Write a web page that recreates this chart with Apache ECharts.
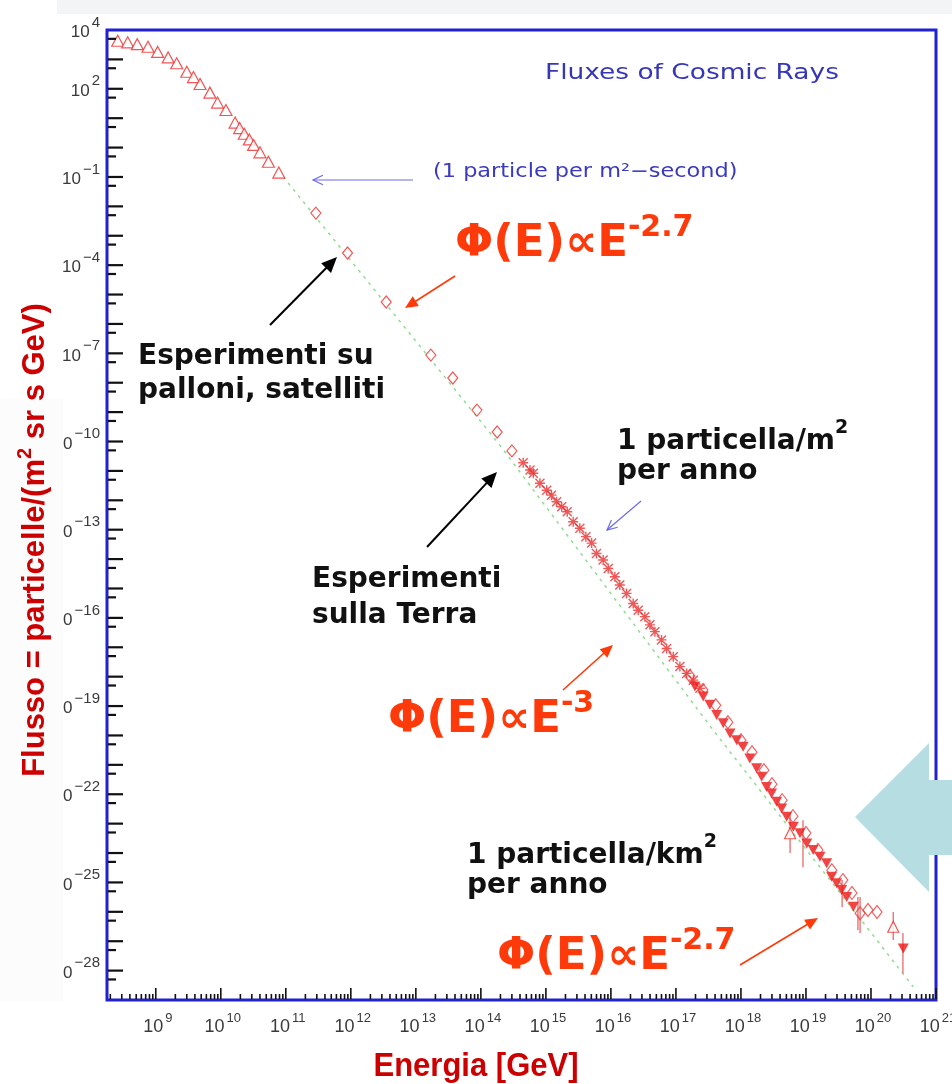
<!DOCTYPE html>
<html>
<head>
<meta charset="utf-8">
<script src="https://cdn.jsdelivr.net/npm/echarts@6/dist/echarts.min.js"></script>
<style>
html,body{margin:0;padding:0;background:#fff;}
#chart{width:952px;height:1084px;}
</style>
</head>
<body>
<div id="chart"></div>
<script>
// ---------- axis ranges / ticks ----------
const X_MIN = 1.778e8, X_MAX = 1e21;
const Y_MIN = 1e-29, Y_MAX = 1e4;
const xTickValues = [1e9,1e10,1e11,1e12,1e13,1e14,1e15,1e16,1e17,1e18,1e19,1e20,1e21];
const xTickExps   = ['9','10','11','12','13','14','15','16','17','18','19','20','21'];
const yLabelValues = [1e4,1e2,1e-1,1e-4,1e-7,1e-10,1e-13,1e-16,1e-19,1e-22,1e-25,1e-28];
const yLabelExps   = ['4','2','\u22121','\u22124','\u22127','\u221210','\u221213','\u221216','\u221219','\u221222','\u221225','\u221228'];

// ---------- data (Energy GeV, flux) ----------
const lowEnergyTriangles = [[2.6e8,4.3e3],[3.7e8,3.8e3],[5.2e8,3.3e3],[7.6e8,2.7e3],[1.07e9,1.8e3],[1.55e9,1.17e3],[2.1e9,740],[3.0e9,380],[3.8e9,250],[4.8e9,145],[6.8e9,74],[8.9e9,34],[1.2e10,19],[1.66e10,7.1],[1.95e10,4.6],[2.3e10,2.95],[2.75e10,1.9],[3.2e10,1.23],[4.0e10,0.69],[5.4e10,0.33],[7.8e10,0.141]];
const balloonDiamonds = [[2.9e11,5.9e-3],[8.9e11,2.6e-4],[3.5e12,5.6e-6],[1.7e13,8.7e-8],[3.7e13,1.45e-8],[8.7e13,1.17e-9],[1.78e14,2.1e-10],[3.0e14,4.8e-11]];
const groundStars = [[4.48e14,1.9e-11],[5.7e14,1.07e-11],[6.4e14,8.3e-12],[8.1e14,3.8e-12],[1.03e15,2.2e-12],[1.22e15,1.5e-12],[1.46e15,8.9e-13],[1.75e15,6.0e-13],[2.13e15,4.1e-13],[2.63e15,1.86e-13],[3.33e15,1.12e-13],[4.12e15,5.8e-14],[5.05e15,3.5e-14],[6.0e15,1.55e-14],[7.6e15,9.3e-15],[9.1e15,4.8e-15],[1.15e16,2.5e-15],[1.37e16,1.32e-15],[1.74e16,6.8e-16],[2.2e16,3.1e-16],[2.63e16,1.82e-16],[3.33e16,1.1e-16],[3.98e16,5.8e-17],[4.75e16,3.4e-17],[6.0e16,1.78e-17],[7.2e16,9.1e-18],[9.1e16,4.8e-18],[1.15e17,2.2e-18],[1.46e17,1.29e-18],[1.85e17,7.6e-19],[2.34e17,4.0e-19]];
const uhecrTriangles = [[1.96e17,4.6e-19],[2.63e17,2.1e-19],[3.33e17,1.1e-19],[4.23e17,5.0e-20],[5.35e17,2.6e-20],[6.8e17,1.17e-20],[8.6e17,6.9e-21],[1.08e18,4.1e-21],[1.37e18,1.66e-21],[1.74e18,7.6e-22],[2.08e18,3.9e-22],[2.48e18,1.78e-22],[2.96e18,1.07e-22],[3.54e18,5.5e-23],[4.23e18,3.3e-23],[5.05e18,1.7e-23],[6.4e18,7.8e-24],[8.1e18,4.7e-24],[1.03e19,2.1e-24],[1.29e19,1.26e-24],[1.64e19,7.4e-25],[2.08e19,4.5e-25],[2.48e19,1.55e-25],[2.96e19,9.3e-26],[3.54e19,5.5e-26],[4.23e19,3.2e-26],[5.35e19,1.48e-26],[3.14e20,5.6e-28]];
const uhecrDiamonds = [[1.64e17,1.05e-18],[2.6e17,3.5e-19],[4.1e17,1.07e-19],[6.3e17,2.8e-20],[1.0e18,6.9e-21],[1.48e18,2.7e-21],[2.26e18,6.6e-22],[3.0e18,2.2e-22],[4.3e18,6.3e-23],[6.3e18,1.8e-23],[1.0e19,4.8e-24],[1.53e19,1.26e-24],[2.5e19,2.6e-25],[3.7e19,1.2e-25],[5.1e19,4.4e-26],[6.8e19,8.9e-27],[9.0e19,1.15e-26],[1.24e20,9.8e-27]];
const uhecrOpenTriangles = [[5.7e18,4.7e-24],[2.2e20,3.1e-27]];
const errorBars = [[5.7e18,1.0e-24,2.3e-23],[9.0e18,3.3e-25,1.3e-23],[3.6e19,1.45e-26,1.2e-25],[6.3e19,2.4e-27,3.2e-26],[6.8e19,1.9e-27,3.2e-26],[2.2e20,1.1e-27,9.8e-27],[3.1e20,8.1e-29,1.9e-27]];
const powerLawGuide = [[9.1e10,0.102],[1.95e14,7.6e-11],[3.75e17,1.5e-20],[4.47e20,2.8e-29]];

// ---------- helpers ----------
const FRAME = '#2121d4';
const ORANGE = '#ff3a0a';
const RED = '#ee2a2a';

const xTickData = [];
xTickValues.forEach(v => xTickData.push([v, Y_MIN, 1]));
for (let e = 8; e <= 20; e++) for (let m = 2; m <= 9; m++) {
  const v = m * Math.pow(10, e);
  if (v > X_MIN && v < X_MAX) xTickData.push([v, Y_MIN, 0]);
}
const yTickData = [];
for (let e = -28; e <= 3; e++) yTickData.push([X_MIN, Math.pow(10, e), 1]);
for (let e = -29; e <= 3; e++) yTickData.push([X_MIN, 5 * Math.pow(10, e), 0]);

const asterisk = 'path://M0,4.3H10V5.7H0Z M4.3,0H5.7V10H4.3Z M1,0L10,9L9,10L0,1Z M9,0L10,1L1,10L0,9Z';

function arrow(x1, y1, x2, y2, color, w, head, filled) {
  const a = Math.atan2(y2 - y1, x2 - x1);
  const sp = filled ? 0.42 : 0.45;
  const p1 = [x2 - head * Math.cos(a - sp), y2 - head * Math.sin(a - sp)];
  const p2 = [x2 - head * Math.cos(a + sp), y2 - head * Math.sin(a + sp)];
  const els = [];
  const endX = filled ? x2 - head * 0.8 * Math.cos(a) : x2;
  const endY = filled ? y2 - head * 0.8 * Math.sin(a) : y2;
  els.push({type: 'line', shape: {x1: x1, y1: y1, x2: endX, y2: endY}, style: {stroke: color, lineWidth: w}});
  if (filled) els.push({type: 'polygon', shape: {points: [[x2, y2], p1, p2]}, style: {fill: color}});
  else els.push({type: 'polyline', shape: {points: [p1, [x2, y2], p2]}, style: {stroke: color, lineWidth: w, fill: null}});
  return {type: 'group', z: 50, children: els};
}
function label(x, y, text, font, color, rich, scaleX) {
  const st = {text: text, fill: color, textAlign: 'left', textVerticalAlign: 'middle'};
  if (font) st.font = font;
  if (rich) st.rich = rich;
  const el = {type: 'text', x: x, y: y, z: 60, style: st};
  if (scaleX) { el.scaleX = scaleX; }
  return el;
}
const blackFont = 'bold 28px "DejaVu Sans"';
const supBlack = {s: {fontSize: 19, fontWeight: 'bold', fontFamily: 'DejaVu Sans', fill: '#111', verticalAlign: 'top'}, a: {fontSize: 28, fontWeight: 'bold', fontFamily: 'DejaVu Sans', fill: '#111', lineHeight: 37, verticalAlign: 'bottom'}};
const phiRich = {
  a: {fontSize: 45, fontWeight: 'bold', fontFamily: 'DejaVu Sans', fill: ORANGE, lineHeight: 54, verticalAlign: 'bottom'},
  s: {fontSize: 30, fontWeight: 'bold', fontFamily: 'DejaVu Sans', fill: ORANGE, verticalAlign: 'top'}
};

const chart = echarts.init(document.getElementById('chart'), null, {renderer: 'canvas'});
const option = {
  animation: false,
  backgroundColor: '#fff',
  grid: {left: 107, right: 16, top: 30, bottom: 84, show: true, borderColor: FRAME, borderWidth: 3, backgroundColor: 'transparent'},
  xAxis: {type: 'log', logBase: 10, min: X_MIN, max: X_MAX, axisLine: {show: false}, axisTick: {show: false}, axisLabel: {show: false}, splitLine: {show: false}},
  yAxis: {type: 'log', logBase: 10, min: Y_MIN, max: Y_MAX, axisLine: {show: false}, axisTick: {show: false}, axisLabel: {show: false}, splitLine: {show: false}},
  series: [
    {type: 'line', data: powerLawGuide, symbol: 'none', z: 1, lineStyle: {color: '#8fdc8f', width: 1.5, type: [3, 5]}},
    {type: 'custom', z: 3, data: errorBars, renderItem: function (p, api) {
      const a = api.coord([api.value(0), api.value(1)]);
      const b = api.coord([api.value(0), api.value(2)]);
      return {type: 'line', shape: {x1: a[0], y1: a[1], x2: b[0], y2: b[1]}, style: {stroke: '#e86a6a', lineWidth: 1.3}};
    }},
    {type: 'scatter', data: lowEnergyTriangles, symbol: 'triangle', symbolSize: [12, 11], z: 4, itemStyle: {color: '#fff', borderColor: RED, borderWidth: 1.2}},
    {type: 'scatter', data: balloonDiamonds, symbol: 'diamond', symbolSize: [10, 12], z: 4, itemStyle: {color: '#fff', borderColor: RED, borderWidth: 1.2}},
    {type: 'scatter', data: groundStars, symbol: asterisk, symbolSize: 10, z: 4, itemStyle: {color: '#e82e2e'}},
    {type: 'scatter', data: uhecrTriangles, symbol: 'triangle', symbolRotate: 180, symbolSize: [11, 10], z: 5, itemStyle: {color: '#ee1515'}},
    {type: 'scatter', data: uhecrDiamonds, symbol: 'diamond', symbolSize: [10, 13], z: 6, itemStyle: {color: 'rgba(255,255,255,0)', borderColor: '#ee3a3a', borderWidth: 1.2}},
    {type: 'scatter', data: uhecrOpenTriangles, symbol: 'triangle', symbolSize: [11, 11], z: 6, itemStyle: {color: '#fff', borderColor: RED, borderWidth: 1.2}},
    // x ticks + labels
    {type: 'custom', z: 10, data: xTickData, renderItem: function (p, api) {
      const c = api.coord([api.value(0), api.value(1)]);
      const len = api.value(2) === 1 ? 11 : 5;
      return {type: 'line', shape: {x1: c[0], y1: c[1] - 1, x2: c[0], y2: c[1] - 1 - len}, style: {stroke: '#111', lineWidth: 1.6}};
    }},
    {type: 'custom', z: 10, data: xTickValues.map((v, i) => [v, Y_MIN, i]), renderItem: function (p, api) {
      const c = api.coord([api.value(0), api.value(1)]);
      const e = xTickExps[api.value(2)];
      return {type: 'text', x: c[0] + 2, y: c[1] + 24, style: {text: '{b|10}{s|' + e + '}', textAlign: 'center', textVerticalAlign: 'middle',
        rich: {b: {fontSize: 18, fontFamily: 'Liberation Sans', fill: '#3a3a3a', lineHeight: 24, verticalAlign: 'bottom'},
               s: {fontSize: 13, fontFamily: 'Liberation Sans', fill: '#3a3a3a', verticalAlign: 'top', padding: [0, 0, 0, 2]}}}};
    }},
    // y ticks + labels
    {type: 'custom', z: 10, data: yTickData, renderItem: function (p, api) {
      const c = api.coord([api.value(0), api.value(1)]);
      const len = api.value(2) === 1 ? 15 : 8;
      return {type: 'line', shape: {x1: c[0] + 1, y1: c[1], x2: c[0] + 1 + len, y2: c[1]}, style: {stroke: '#111', lineWidth: 2.2}};
    }},
    {type: 'custom', z: 10, data: yLabelValues.map((v, i) => [X_MIN, v, i]), renderItem: function (p, api) {
      const c = api.coord([api.value(0), api.value(1)]);
      const e = yLabelExps[api.value(2)];
      return {type: 'text', x: c[0] - 7, y: c[1] - 2, style: {text: '{b|10}{s|' + e + '}', textAlign: 'right', textVerticalAlign: 'middle',
        rich: {b: {fontSize: 17, fontFamily: 'Liberation Sans', fill: '#3a3a3a', lineHeight: 26, verticalAlign: 'bottom'},
               s: {fontSize: 15, fontFamily: 'Liberation Sans', fill: '#3a3a3a', verticalAlign: 'top', padding: [0, 0, 0, 2]}}}};
    }}
  ],
  graphic: [
    {type: 'rect', z: 40, shape: {x: 57, y: 0, width: 895, height: 14}, style: {fill: '#f2f4f6'}},
    {type: 'rect', z: 40, shape: {x: 0, y: 398, width: 63, height: 604}, style: {fill: '#fcfcfc'}},
    {type: 'text', z: 60, x: 33, y: 540, rotation: Math.PI / 2, style: {text: '{a|Flusso = particelle/(m}{s|2}{a| sr s GeV)}', textAlign: 'center', textVerticalAlign: 'middle',
      rich: {a: {fontSize: 31, fontWeight: 'bold', fontFamily: 'Liberation Sans', fill: '#cc0000', lineHeight: 36, verticalAlign: 'bottom'},
             s: {fontSize: 20, fontWeight: 'bold', fontFamily: 'Liberation Sans', fill: '#cc0000', verticalAlign: 'top'}}}},
    {type: 'text', z: 60, x: 476, y: 1067, scaleY: 1.1, style: {text: 'Energia [GeV]', font: 'bold 31px "Liberation Sans"', fill: '#cc0000', textAlign: 'center', textVerticalAlign: 'middle'}},
    label(545, 73, 'Fluxes of Cosmic Rays', '22px "DejaVu Sans"', '#3636b8', null, 1.2),
    label(433, 172, '(1 particle per m\u00b2\u2212second)', '19px "DejaVu Sans"', '#3a3ac0', null, 1.18),
    arrow(413, 180, 313, 180, '#6b6be6', 1.2, 11, false),
    label(455, 240, '{a|\u03a6(E)\u221dE}{s|-2.7}', null, ORANGE, phiRich),
    arrow(455, 276, 405, 308, ORANGE, 1.6, 14, true),
    arrow(270, 325, 337, 257, '#000', 2, 17, true),
    label(138, 357, 'Esperimenti su', blackFont, '#111'),
    label(138, 391, 'palloni, satelliti', blackFont, '#111'),
    label(617, 437, '{a|1 particella/m}{s|2}', null, '#111', supBlack),
    label(617, 472, 'per anno', blackFont, '#111'),
    arrow(641, 501, 607, 530, '#6b6be6', 1.2, 11, false),
    arrow(427, 547, 497, 472, '#000', 2, 17, true),
    label(312, 580, 'Esperimenti', blackFont, '#111'),
    label(312, 616, 'sulla Terra', blackFont, '#111'),
    label(388, 716, '{a|\u03a6(E)\u221dE}{s|-3}', null, ORANGE, phiRich),
    arrow(563, 690, 613, 645, ORANGE, 1.6, 14, true),
    label(467, 851, '{a|1 particella/km}{s|2}', null, '#111', supBlack),
    label(467, 886, 'per anno', blackFont, '#111'),
    label(497, 953, '{a|\u03a6(E)\u221dE}{s|-2.7}', null, ORANGE, phiRich),
    arrow(740, 965, 818, 918, ORANGE, 1.6, 14, true),
    {type: 'polygon', z: 70, shape: {points: [[855, 817], [929, 743], [929, 780], [952, 780], [952, 855], [929, 855], [929, 892]]}, style: {fill: '#b6dde1'}}
  ]
};
chart.setOption(option);
</script>
</body>
</html>
